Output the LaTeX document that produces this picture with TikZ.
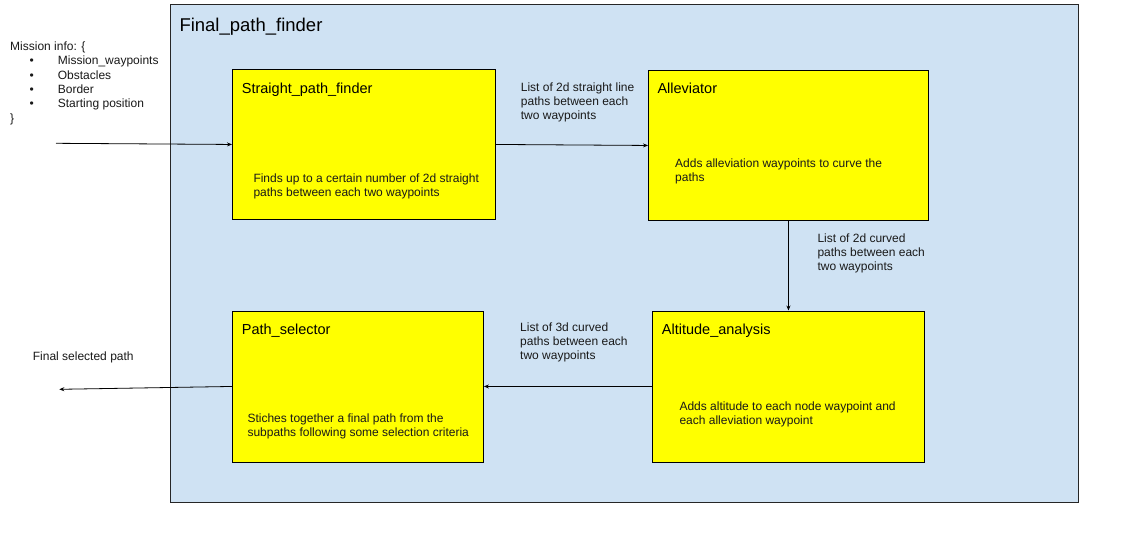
\documentclass[tikz,border=0pt]{standalone}
\usepackage{fontspec}
\setmainfont{Liberation Sans}
\usetikzlibrary{arrows.meta}
\definecolor{paleblue}{HTML}{CFE2F3}
\definecolor{boxyellow}{HTML}{FFFF00}
\begin{document}
\begin{tikzpicture}[x=1pt,y=-1pt,
  outerbox/.style={draw=black!85, fill=paleblue, line width=0.9pt, anchor=north west, inner sep=0pt},
  stagebox/.style={draw=black, fill=boxyellow, line width=0.9pt, anchor=north west, inner sep=0pt},
  txt/.style={anchor=north west, inner sep=0pt, align=left, font=\fontsize{12}{14}\selectfont, text=black!90},
  boxtitle/.style={anchor=north west, inner sep=0pt, font=\fontsize{14.5}{17}\selectfont},
  bigtitle/.style={anchor=north west, inner sep=0pt, font=\fontsize{18.5}{22}\selectfont},
  arr/.style={draw=black, line width=0.8pt, -{Stealth[length=5pt,width=4pt]}}
]
\useasboundingbox[fill=white] (0,0) rectangle (1121,539);

% outer container
\node[outerbox, minimum width=908.5pt, minimum height=497.7pt] (fpf) at (169.5,4.3) {};
\node[bigtitle] (fpftitle) at (179.3,18.3) {Final\_path\_finder};

% stage boxes
\node[stagebox, minimum width=263pt, minimum height=150pt] (spf) at (232,69) {};
\node[stagebox, minimum width=280pt, minimum height=150pt] (all) at (648,70) {};
\node[stagebox, minimum width=272pt, minimum height=151pt] (alt) at (652,310.5) {};
\node[stagebox, minimum width=251pt, minimum height=151pt] (ps) at (232,310.5) {};

% box titles
\node[boxtitle] (spft) at (241.7,82.7) {Straight\_path\_finder};
\node[boxtitle] (allt) at (657.3,82.3) {Alleviator};
\node[boxtitle] (altt) at (661.7,323.3) {Altitude\_analysis};
\node[boxtitle] (pst) at (241.7,323.3) {Path\_selector};

% box bodies
\node[txt] (spfb) at (253.3,173.3) {Finds up to a certain number of 2d straight\\paths between each two waypoints};
\node[txt] (allb) at (675,158.3) {Adds alleviation waypoints to curve the\\paths};
\node[txt] (altb) at (679.3,401.7) {Adds altitude to each node waypoint and\\each alleviation waypoint};
\node[txt] (psb) at (247.3,414) {Stiches together a final path from the\\subpaths following some selection criteria};

% connector labels
\node[txt] (l1) at (520.7,83) {List of 2d straight line\\paths between each\\two waypoints};
\node[txt] (l2) at (817.3,233.3) {List of 2d curved\\paths between each\\two waypoints};
\node[txt] (l3) at (520,322.7) {List of 3d curved\\paths between each\\two waypoints};
\node[txt] (outlabel) at (32.7,351.7) {Final selected path};

% mission info
\node[txt, font=\fontsize{12}{14.3}\selectfont] (mission) at (10,41.7) {Mission info: \{\\
\hspace*{19.3pt}\makebox[28.4pt][l]{•}Mission\_waypoints\\
\hspace*{19.3pt}\makebox[28.4pt][l]{•}Obstacles\\
\hspace*{19.3pt}\makebox[28.4pt][l]{•}Border\\
\hspace*{19.3pt}\makebox[28.4pt][l]{•}Starting position\\
\}};

% connectors
\coordinate (in) at (56,143.3);
\coordinate (out) at (59.3,389.3);
\draw[arr] (in) -- (spf.west);
\draw[arr] (spf.east) -- (all.west);
\draw[arr] (all.south) -- (alt.north);
\draw[arr] (alt.west) -- (ps.east);
\draw[arr] (ps.west) -- (out);
\end{tikzpicture}
\end{document}
